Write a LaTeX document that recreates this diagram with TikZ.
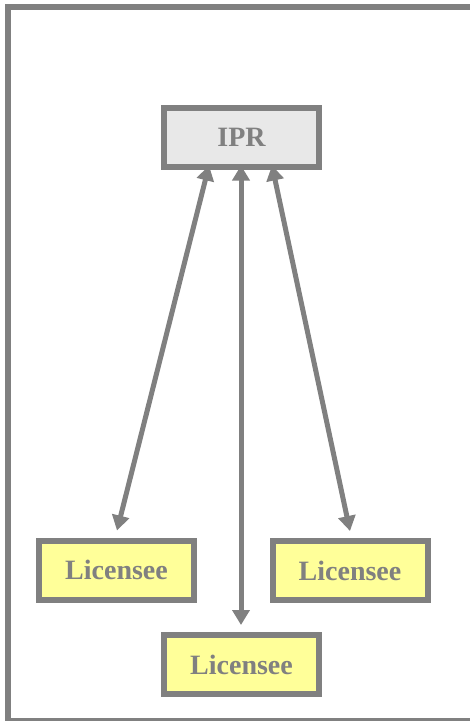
\documentclass[tikz,border=0pt]{standalone}
\usepackage{fontspec}
\setmainfont{Liberation Serif}
\usetikzlibrary{arrows.meta}
\definecolor{linegray}{HTML}{808080}
\definecolor{iprfill}{HTML}{E8E8E8}
\definecolor{licfill}{HTML}{FFFF99}
\tikzset{
  box/.style={draw=linegray, line width=6pt, minimum width=155pt, minimum height=59pt,
    inner sep=0pt, text=linegray, font=\fontsize{28}{30}\selectfont\bfseries},
  iprbox/.style={box, fill=iprfill},
  licbox/.style={box, fill=licfill},
  link/.style={draw=linegray, line width=5pt, {Triangle[length=15pt,width=17pt]}-{Triangle[length=15pt,width=17pt]}}
}
\begin{document}
\begin{tikzpicture}[x=1pt,y=-1pt]
\useasboundingbox (0,0) rectangle (470,721);
\draw[linegray, line width=6pt] (8,7) rectangle (478,721);
\node[iprbox] (ipr) at (241.5,137) {IPR};
\node[licbox] (l1) at (116.5,570) {Licensee};
\node[licbox] (l2) at (350,570.5) {Licensee};
\node[licbox] (l3) at (241.5,664.5) {Licensee};
\draw[link] ([xshift=-32.5pt,yshift=4pt]ipr.south) -- ([xshift=0.5pt,yshift=7pt]l1.north);
\draw[link] ([xshift=-0.5pt,yshift=4pt]ipr.south) -- ([xshift=-0.5pt,yshift=7pt]l3.north);
\draw[link] ([xshift=30.5pt,yshift=4pt]ipr.south) -- ([yshift=7pt]l2.north);
\end{tikzpicture}
\end{document}
